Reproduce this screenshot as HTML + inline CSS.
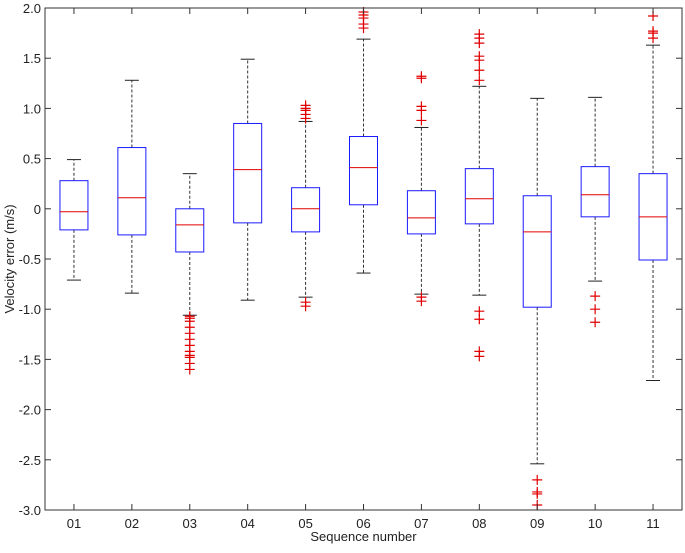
<!DOCTYPE html>
<html><head><meta charset="utf-8"><style>
body{margin:0;background:#fff;}
svg text{font-family:"Liberation Sans",Arial,sans-serif;font-size:13px;fill:#222;}
</style></head><body>
<svg id="c" width="685" height="548"></svg>
<script>
const categories=["01","02","03","04","05","06","07","08","09","10","11"];
const whiskerLow=[-0.71,-0.84,-1.06,-0.91,-0.88,-0.64,-0.85,-0.86,-2.54,-0.72,-1.71];
const q1=[-0.21,-0.26,-0.43,-0.14,-0.23,0.04,-0.25,-0.15,-0.98,-0.08,-0.51];
const medians=[-0.03,0.11,-0.16,0.39,0.0,0.41,-0.09,0.1,-0.23,0.14,-0.08];
const q3=[0.28,0.61,0.0,0.85,0.21,0.72,0.18,0.4,0.13,0.42,0.35];
const whiskerHigh=[0.49,1.28,0.35,1.49,0.87,1.69,0.81,1.22,1.1,1.11,1.63];
const outliers=[[],[],[-1.07,-1.09,-1.12,-1.18,-1.24,-1.3,-1.36,-1.42,-1.46,-1.48,-1.54,-1.6],[],
[0.9,0.94,0.98,1.0,1.03,-0.93,-0.97],[1.8,1.84,1.9,1.93,1.96],
[0.88,0.98,1.02,1.3,1.32,-0.88,-0.92],[1.28,1.38,1.48,1.52,1.65,1.7,1.74,-1.02,-1.1,-1.42,-1.47],
[-2.7,-2.82,-2.84,-2.95],[-0.87,-1.0,-1.13],[1.7,1.75,1.77,1.92]];
const yTicks=["2.0","1.5","1.0","0.5","0","-0.5","-1.0","-1.5","-2.0","-2.5","-3.0"];
const L=45,R=682,T=8,B=510,ymin=-3,ymax=2;
const X=i=>L+(i+0.5)*(R-L)/categories.length;
const Y=v=>B-(v-ymin)/(ymax-ymin)*(B-T);
const s=document.getElementById('c');const NS="http://www.w3.org/2000/svg";
function mk(t,a,p){const e=document.createElementNS(NS,t);for(const k in a)e.setAttribute(k,a[k]);(p||s).appendChild(e);return e;}
const hw=14,cw=7;
categories.forEach((c,i)=>{
 const g=mk('g',{});
 
 
 const x=X(i);
 mk('line',{x1:x,x2:x,y1:Y(q3[i]),y2:Y(whiskerHigh[i]),stroke:'#333','stroke-dasharray':'3,2'},g);
 mk('line',{x1:x,x2:x,y1:Y(q1[i]),y2:Y(whiskerLow[i]),stroke:'#333','stroke-dasharray':'3,2'},g);
 mk('line',{x1:x-cw,x2:x+cw,y1:Y(whiskerHigh[i]),y2:Y(whiskerHigh[i]),stroke:'#222'},g);
 mk('line',{x1:x-cw,x2:x+cw,y1:Y(whiskerLow[i]),y2:Y(whiskerLow[i]),stroke:'#222'},g);
 mk('rect',{x:x-hw,y:Y(q3[i]),width:2*hw,height:Y(q1[i])-Y(q3[i]),fill:'none',stroke:'#1a1aff'},g);
 mk('line',{x1:x-hw,x2:x+hw,y1:Y(medians[i]),y2:Y(medians[i]),stroke:'#e00000'},g);
 outliers[i].forEach(v=>{
  const o=mk('path',{d:`M${x-5},${Y(v)}h10M${x},${Y(v)-5}v10`,stroke:'#e00000','stroke-width':1.2},g);
  
  
 });
 mk('line',{x1:x,x2:x,y1:B,y2:B-6,stroke:'#333'});
 mk('line',{x1:x,x2:x,y1:T,y2:T+6,stroke:'#333'});
 const t=mk('text',{x:x,y:B+18,'text-anchor':'middle'});t.textContent=c;
 
 
});
yTicks.forEach(l=>{
 const v=parseFloat(l),y=Y(v);
 mk('line',{x1:L,x2:L+6,y1:y,y2:y,stroke:'#333'});
 mk('line',{x1:R,x2:R-6,y1:y,y2:y,stroke:'#333'});
 const t=mk('text',{x:L-4,y:y+5,'text-anchor':'end'});t.textContent=l;
 
 
});
const f=mk('rect',{x:L,y:T,width:R-L,height:B-T,fill:'none',stroke:'#333'});


const xt=mk('text',{x:(L+R)/2,y:541,'text-anchor':'middle','font-size':'15'});xt.textContent='Sequence number';


const yt=mk('text',{x:0,y:0,'text-anchor':'middle',transform:`translate(14,${(T+B)/2}) rotate(-90)`,'font-size':'15'});yt.textContent='Velocity error (m/s)';


</script>
</body></html>
